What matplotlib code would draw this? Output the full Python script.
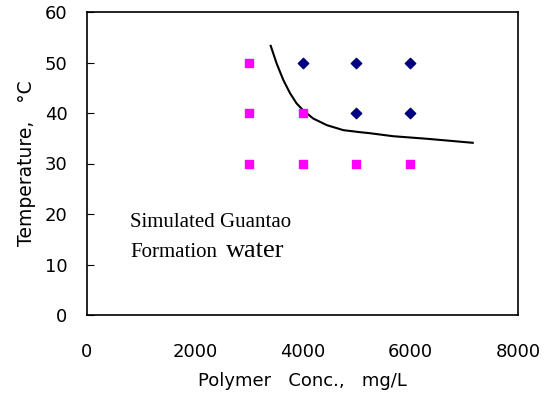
import matplotlib.pyplot as plt

# observed points
low_x = [3000, 3000, 3000, 4000, 4000, 5000, 6000]
low_y = [30, 40, 50, 30, 40, 30, 30]
high_x = [4000, 5000, 6000, 5000, 6000]
high_y = [50, 50, 50, 40, 40]

# boundary curve
curve_x = [3410, 3520, 3645, 3770, 3890, 4015, 4200, 4450, 4760, 5070,
           5250, 5685, 6305, 7160]
curve_y = [53.3, 49.8, 46.5, 43.9, 41.9, 40.5, 38.9, 37.6, 36.6, 36.2,
           36.0, 35.4, 34.9, 34.1]

xticks = [0, 2000, 4000, 6000, 8000]
yticks = [0, 10, 20, 30, 40, 50, 60]

fig = plt.figure(figsize=(5.45, 3.96), dpi=100)
ax = fig.add_axes([87 / 545, 81 / 396, 431 / 545, 303 / 396])

ax.scatter(low_x, low_y, marker='s', s=40, color='#ff00ff', zorder=3)
ax.scatter(high_x, high_y, marker='D', s=28, color='#000080', zorder=3)
ax.plot(curve_x, curve_y, color='black', lw=1.5)

ax.set_xlim(0, 8000)
ax.set_ylim(0, 60)
ax.set_xticks(xticks)
ax.set_yticks(yticks)
ax.tick_params(axis='x', length=0, pad=20, labelsize=13)
ax.tick_params(axis='y', direction='in', length=5, pad=14, labelsize=13)
for s in ax.spines.values():
    s.set_linewidth(1.2)

ax.set_xlabel('Polymer   Conc.,   mg/L', fontsize=13, labelpad=8)
ax.set_ylabel('Temperature,   °C', fontsize=13.5, labelpad=6)

# annotation, placed in pixels from the bottom-left corner
ax.text(130, 396 - 227, 'Simulated Guantao', transform=None, fontsize=15,
        family='Liberation Serif', va='baseline')
ax.text(130, 396 - 257, 'Formation', transform=None, fontsize=15,
        family='Liberation Serif', va='baseline')
ax.text(226, 396 - 257, 'water', transform=None, fontsize=19,
        family='Liberation Serif', va='baseline')

fig.savefig('out.png')
